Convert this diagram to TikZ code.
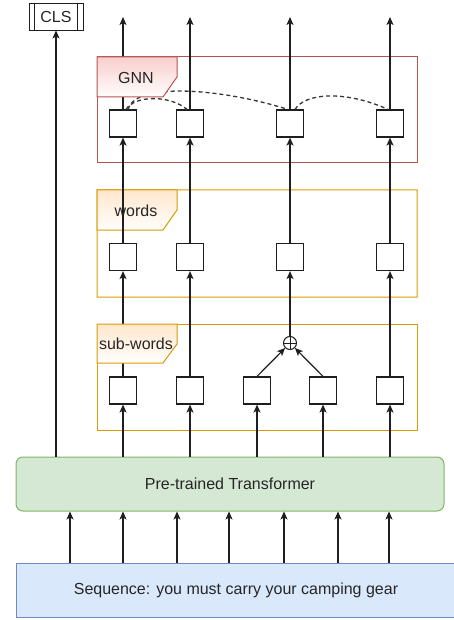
\documentclass[tikz,border=0pt]{standalone}
\usepackage{fontspec}
\setmainfont{Liberation Sans}
\usetikzlibrary{arrows.meta}
\definecolor{seqfill}{HTML}{DAE8FC}
\definecolor{seqdraw}{HTML}{6C8EBF}
\definecolor{trfill}{HTML}{D5E8D4}
\definecolor{trdraw}{HTML}{82B366}
\definecolor{gnndraw}{HTML}{B85450}
\definecolor{gnnfill}{HTML}{F8CECC}
\definecolor{orgdraw}{HTML}{D79B00}
\definecolor{orgfill}{HTML}{FFE6CC}
\definecolor{ink}{HTML}{1E1E1E}
\definecolor{txt}{HTML}{262626}
\newcommand{\gradtab}[4]{% #1 top y, #2 height, #3 fill colour, #4 line colour
  \begin{scope}
    \clip (97,#1) -- (177,#1) -- (177,{#1+20}) -- (163,{#1+#2}) -- (97,{#1+#2}) -- cycle;
    \foreach \k in {0,...,19}{
      \pgfmathtruncatemacro\pc{100-5*\k}
      \fill[#3!\pc!white] (96,{#1-1+\k*(#2+2)/20}) rectangle (178,{#1+0.5+(\k+1)*(#2+2)/20});
    }
  \end{scope}
  \draw[line width=1pt, draw=#4] (97,#1) -- (177,#1) -- (177,{#1+20}) -- (163,{#1+#2}) -- (97,{#1+#2}) -- cycle;
}
\begin{document}
\begin{tikzpicture}[x=1pt,y=-1pt,
  font=\fontsize{16}{19}\selectfont, text=txt,
  sq/.style={draw=ink, fill=white, line width=1.2pt, minimum size=27pt, inner sep=0pt},
  arr/.style={draw=ink, line width=1.2pt, -{Stealth[length=8pt,width=7pt,inset=2pt]}},
  dsh/.style={draw=ink!90, line width=1.3pt, dash pattern=on 4pt off 3pt},
  framebox/.style={line width=1pt, minimum width=320pt, inner sep=0pt},
  bigbox/.style={line width=1pt, inner sep=0pt, minimum height=54pt},
]
\useasboundingbox (0,0) rectangle (453,620);

% input / transformer
\node[bigbox, draw=seqdraw, fill=seqfill, minimum width=440pt] (seq) at (236,590) {Sequence: you must carry your camping gear};
\node[bigbox, draw=trdraw, fill=trfill, rounded corners=7pt, minimum width=428pt] (tr) at (230,484) {Pre-trained Transformer};

% frames
\node[framebox, draw=orgdraw, minimum height=106pt] (fsub) at (257,377) {};
\node[framebox, draw=gnndraw, minimum height=106pt] (fgnn) at (257,110) {};
\fill[orgdraw, even odd rule] (96.5,189.5) rectangle (417.5,297.5) (97.5,190.5) rectangle (416.5,296.5);

% words tab (lines pass over it)
\gradtab{190}{40}{orgfill}{orgdraw}
\node (twords) at (136,211) {words};

% boxes
\foreach \i/\x in {1/123,2/190,3/290,4/390}{
  \node[sq] (g\i) at (\x,123.5) {};
  \node[sq] (w\i) at (\x,257) {};
  \coordinate (o\i) at (\x,17);
}
\foreach \i/\x in {1/123,2/190,3/257,4/323,5/390}{
  \node[sq] (s\i) at (\x,390.5) {};
}
\node[circle, draw=ink, line width=1pt, fill=white, minimum size=13pt, inner sep=0pt] (op) at (290,343) {};
\draw[ink, line width=0.9pt] (op.north) -- (op.south) (op.west) -- (op.east);

% CLS
\node[draw=ink, line width=0.9pt, minimum width=54pt, minimum height=27pt, inner sep=0pt] (cls) at (56,16.5) {CLS};
\draw[ink, line width=0.9pt] ([xshift=6pt]cls.north west) -- ([xshift=6pt]cls.south west)
  ([xshift=-6pt]cls.north east) -- ([xshift=-6pt]cls.south east);

% sequence -> transformer
\foreach \x [count=\k] in {70,123,177,229,284,338,389}{
  \coordinate (in\k) at (\x,0);
  \draw[arr] (seq.north -| in\k) -- (tr.south -| in\k);
}

% transformer -> CLS and sub-words
\draw[arr] (tr.north -| cls) -- (cls.south);
\foreach \i in {1,...,5}{
  \draw[arr] (tr.north -| s\i) -- (s\i.south);
}

% sub-words -> words
\draw[arr] (s1.north) -- (w1.south);
\draw[arr] (s2.north) -- (w2.south);
\draw[arr] (s5.north) -- (w4.south);
\draw[arr] (s3.north) -- (op);
\draw[arr] (s4.north) -- (op);
\draw[arr] (op.north) -- (w3.south);

% words -> GNN -> outputs
\foreach \i in {1,...,4}{
  \draw[arr] (w\i.north) -- (g\i.south);
  \draw[arr] (g\i.north) -- (o\i);
}

% GNN edges
\draw[dsh] ([xshift=3pt]g1.north) .. controls (135,95) and (170,95) .. ([xshift=-3pt]g2.north);
\draw[dsh] ([xshift=5pt]g1.north) .. controls (135,82) and (220,88) .. ([xshift=-2pt]g3.north);
\draw[dsh] ([xshift=5pt]g3.north) .. controls (305,93) and (345,90) .. ([xshift=-2pt]g4.north);

% tabs drawn over lines
\gradtab{57}{40}{gnnfill}{gnndraw}
\node (tgnn) at (136,78) {GNN};
\gradtab{324}{39}{orgfill}{orgdraw}
\node (tsub) at (136,344) {sub-words};
\end{tikzpicture}
\end{document}
